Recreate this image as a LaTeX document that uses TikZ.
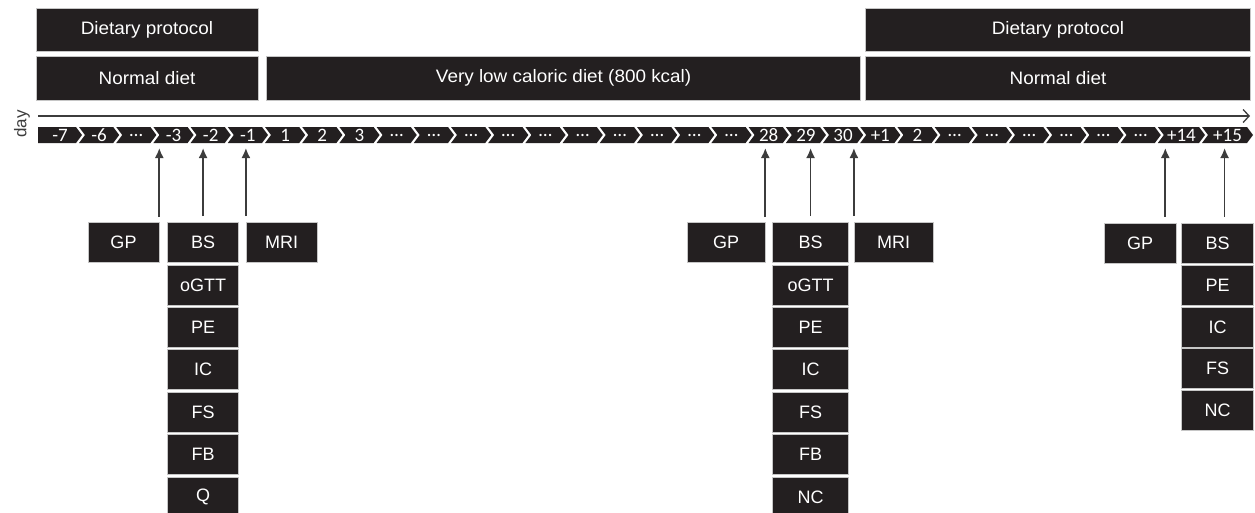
\documentclass[tikz,border=0pt]{standalone}
\usepackage{fontspec}
\setmainfont{Liberation Sans}
\newfontfamily\topfont{Liberation Sans}[FakeStretch=1.05]
\newfontfamily\chevfont{Carlito}
\usetikzlibrary{positioning,arrows.meta}
\definecolor{boxdark}{RGB}{35,31,32}
\definecolor{linegray}{RGB}{60,60,60}
% chevron: name, notch x, tip x, label
\newcommand{\chev}[4]{%
  \fill[boxdark] (#2-6,127) -- (#3-6,127) -- (#3,135) -- (#3-6,143) -- (#2-6,143) -- (#2,135) -- cycle;
  \node[daylab] (#1) at ({(#2+#3-6)/2},135) {#4};
}
\begin{document}
\begin{tikzpicture}[x=1pt, y=-1pt,
  topbox/.style = {draw=gray!45, line width=0.6pt, fill=boxdark, text=white, inner sep=0pt, minimum height=43.5pt, font=\topfont\fontsize{18}{20}\selectfont},
  testbox/.style = {draw=gray!45, line width=0.6pt, fill=boxdark, text=white, inner sep=0pt, minimum height=40pt, minimum width=71pt, font=\fontsize{18}{20}\selectfont},
  daylab/.style = {text=white, inner sep=0pt, font=\chevfont\fontsize{19}{19}\selectfont},
  uparrow/.style = {-{Latex[length=10pt,width=9pt]}, line width=1.7pt, linegray},
  axisline/.style = {-{Straight Barb[length=6pt,width=13pt]}, line width=1.3pt, linegray}]
\useasboundingbox (0,0) rectangle (1255,512);
% diet phases
\node[topbox, minimum width=222pt] (proto1) at (147,30) {Dietary protocol};
\node[topbox, minimum width=222pt, below=4pt of proto1] (diet1) {Normal diet};
\node[topbox, minimum width=594pt, right=8pt of diet1] (vlcd) {Very low caloric diet (800 kcal)};
\node[topbox, minimum width=385pt] (proto2) at (1058,30) {Dietary protocol};
\node[topbox, minimum width=385pt, below=4pt of proto2] (diet2) {Normal diet};
% day axis
\node[rotate=90, text=linegray, inner sep=0pt, font=\fontsize{17}{18}\selectfont] (daytxt) at (22,124) {day};
\coordinate (axstart) at (38,116);
\coordinate (axend) at (1250,116);
\draw[axisline] (axstart) -- (axend);
\fill[boxdark] (38,127) -- (76,127) -- (82,135) -- (76,143) -- (38,143) -- cycle;
\node[daylab] (d0) at (60,135) {-7};
\foreach \lab [count=\i from 1] in {-6,\ldots,-3,-2,-1,1,2,3,\ldots,\ldots,\ldots,\ldots,\ldots,\ldots,\ldots,\ldots,\ldots,\ldots,28,29,30,+1,2,\ldots,\ldots,\ldots,\ldots,\ldots,\ldots} {
  \pgfmathsetmacro\tipx{82+37.2*\i}
  \pgfmathsetmacro\notchx{\tipx-34.2}
  \chev{d\i}{\notchx}{\tipx}{\lab}
}
\chev{d30}{1163.8}{1205}{+14}
\chev{d31}{1208}{1253}{+15}
\coordinate (rowbot) at (0,148);
% before the diet
\node[testbox] (gp1) at (123.5,242.5) {GP};
\node[testbox, right=8pt of gp1] (bs1) {BS};
\node[testbox, right=7pt of bs1] (mri1) {MRI};
\node[testbox, below=1.8pt of bs1] (ogtt1) {oGTT};
\node[testbox, below=1.8pt of ogtt1] (pe1) {PE};
\node[testbox, below=1.8pt of pe1] (ic1) {IC};
\node[testbox, below=1.8pt of ic1] (fs1) {FS};
\node[testbox, below=1.8pt of fs1] (fb1) {FB};
\node[testbox, below=1.8pt of fb1] (q1) {Q};
% end of the diet
\node[testbox, minimum width=78pt] (gp2) at (726,242.5) {GP};
\node[testbox, minimum width=76pt, right=7pt of gp2] (bs2) {BS};
\node[testbox, minimum width=79pt, right=5pt of bs2] (mri2) {MRI};
\node[testbox, minimum width=76pt, below=1.8pt of bs2] (ogtt2) {oGTT};
\node[testbox, minimum width=76pt, below=1.8pt of ogtt2] (pe2) {PE};
\node[testbox, minimum width=76pt, below=1.8pt of pe2] (ic2) {IC};
\node[testbox, minimum width=76pt, below=1.8pt of ic2] (fs2) {FS};
\node[testbox, minimum width=76pt, below=1.8pt of fs2] (fb2) {FB};
\node[testbox, minimum width=76pt, below=1.8pt of fb2] (nc2) {NC};
% after the diet
\node[testbox, minimum width=72pt] (gp3) at (1140,243) {GP};
\node[testbox, minimum width=72pt, right=5pt of gp3] (bs3) {BS};
\node[testbox, minimum width=72pt, below=1.3pt of bs3] (pe3) {PE};
\node[testbox, minimum width=72pt, below=1.3pt of pe3] (ic3) {IC};
\node[testbox, minimum width=72pt, below=1.3pt of ic3] (fs3) {FS};
\node[testbox, minimum width=72pt, below=1.3pt of fs3] (nc3) {NC};
\draw[uparrow] ([yshift=5pt]gp1.north east) -- (gp1.north east |- rowbot);
\draw[uparrow] ([yshift=6pt]bs1.north) -- (bs1.north |- rowbot);
\draw[uparrow] ([yshift=6pt]mri1.north west) -- (mri1.north west |- rowbot);
\draw[uparrow] ([yshift=5pt]gp2.north east) -- (gp2.north east |- rowbot);
\draw[uparrow] ([yshift=6pt]bs2.north) -- (bs2.north |- rowbot);
\draw[uparrow] ([yshift=6pt]mri2.north west) -- (mri2.north west |- rowbot);
\draw[uparrow] ([xshift=-11pt, yshift=6pt]gp3.north east) -- ([xshift=-11pt]gp3.north east |- rowbot);
\draw[uparrow] ([xshift=7pt, yshift=6pt]bs3.north) -- ([xshift=7pt]bs3.north |- rowbot);
\end{tikzpicture}
\end{document}
